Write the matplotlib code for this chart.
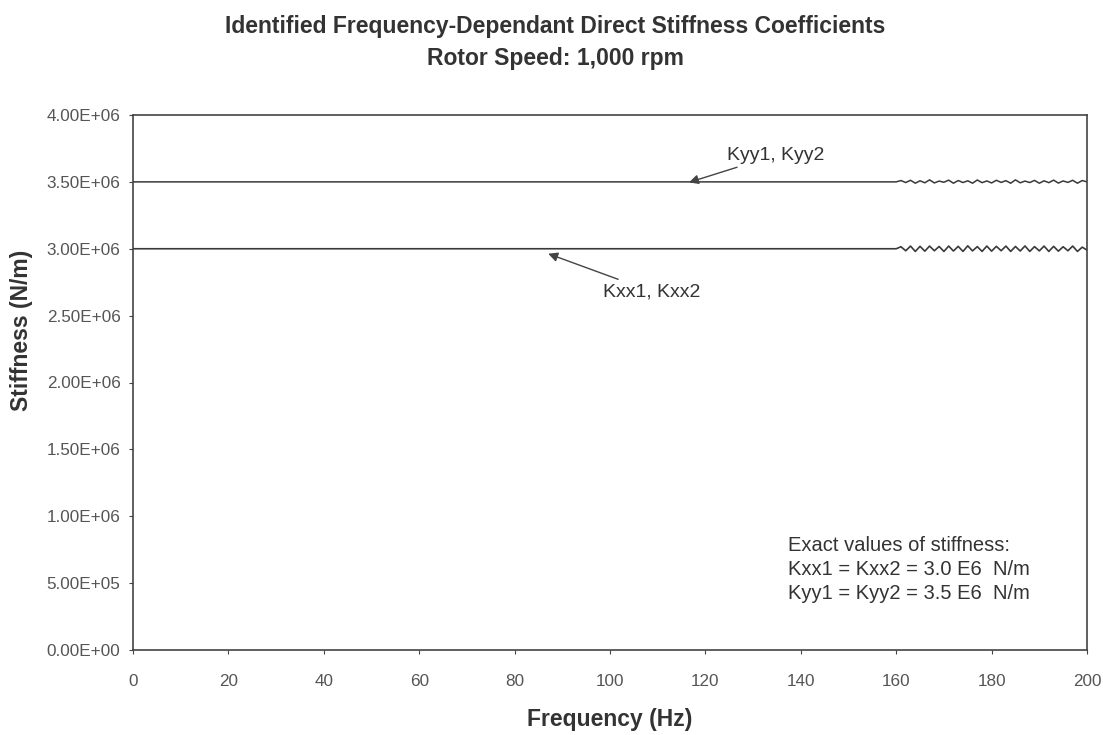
import matplotlib.pyplot as plt
from matplotlib.ticker import FuncFormatter

plt.rcParams['font.family'] = ['Liberation Sans', 'DejaVu Sans']

# --- Data ---
freq_flat = [0, 40, 80, 120, 160]
kxx_flat = [3.00e6, 3.00e6, 3.00e6, 3.00e6, 3.00e6]
kyy_flat = [3.50e6, 3.50e6, 3.50e6, 3.50e6, 3.50e6]

freq_wiggle = [161, 162, 163, 164, 165, 166, 167, 168, 169, 170,
               171, 172, 173, 174, 175, 176, 177, 178, 179, 180,
               181, 182, 183, 184, 185, 186, 187, 188, 189, 190,
               191, 192, 193, 194, 195, 196, 197, 198, 199, 200]
kxx_wiggle = [3.015e6, 2.985e6, 3.020e6, 2.980e6, 3.018e6, 2.982e6, 3.020e6, 2.985e6, 3.017e6, 2.980e6,
              3.020e6, 2.983e6, 3.018e6, 2.980e6, 3.022e6, 2.984e6, 3.016e6, 2.980e6, 3.020e6, 2.982e6,
              3.018e6, 2.985e6, 3.020e6, 2.980e6, 3.017e6, 2.983e6, 3.021e6, 2.980e6, 3.016e6, 2.984e6,
              3.020e6, 2.980e6, 3.018e6, 2.982e6, 3.015e6, 2.985e6, 3.020e6, 2.980e6, 3.012e6, 2.990e6]
kyy_wiggle = [3.510e6, 3.495e6, 3.512e6, 3.490e6, 3.508e6, 3.493e6, 3.515e6, 3.492e6, 3.506e6, 3.497e6,
              3.513e6, 3.490e6, 3.510e6, 3.495e6, 3.508e6, 3.490e6, 3.514e6, 3.494e6, 3.507e6, 3.492e6,
              3.512e6, 3.496e6, 3.509e6, 3.490e6, 3.515e6, 3.493e6, 3.506e6, 3.495e6, 3.511e6, 3.490e6,
              3.508e6, 3.494e6, 3.513e6, 3.491e6, 3.507e6, 3.496e6, 3.512e6, 3.490e6, 3.510e6, 3.500e6]

freq = freq_flat + freq_wiggle
kxx = kxx_flat + kxx_wiggle
kyy = kyy_flat + kyy_wiggle

x_ticks = [0, 20, 40, 60, 80, 100, 120, 140, 160, 180, 200]
y_ticks = [0, 0.5e6, 1.0e6, 1.5e6, 2.0e6, 2.5e6, 3.0e6, 3.5e6, 4.0e6]

exact_lines = ["Exact values of stiffness:",
               "Kxx1 = Kxx2 = 3.0 E6  N/m",
               "Kyy1 = Kyy2 = 3.5 E6  N/m"]

# --- Figure ---
W, H = 1103, 735
fig = plt.figure(figsize=(W / 100, H / 100), dpi=100)
ax = fig.add_axes([133 / W, 1 - 650 / H, (1087 - 133) / W, (650 - 115) / H])

line_col = "#3a3a3a"
ax.plot(freq, kxx, color=line_col, lw=1.2)
ax.plot(freq, kyy, color=line_col, lw=1.1)

ax.set_xlim(0, 200)
ax.set_ylim(0, 4.0e6)
ax.set_xticks(x_ticks)
ax.set_yticks(y_ticks)
ax.yaxis.set_major_formatter(FuncFormatter(lambda v, p: f"{v:.2E}"))

for s in ax.spines.values():
    s.set_color("#444444")
    s.set_linewidth(1.2)
ax.tick_params(axis="both", labelsize=12.3, colors="#444444", labelcolor="#555555",
               length=3, width=0.8)
ax.tick_params(axis="x", pad=14)
ax.tick_params(axis="y", pad=6)

ax.set_xlabel("Frequency (Hz)", fontsize=16.5, fontweight="bold", color="#333333", labelpad=14)
fig.text(22 / W, 1 - 330 / H, "Stiffness (N/m)", rotation=90, ha="center", va="center",
         fontsize=16.5, fontweight="bold", color="#333333")

fig.text(555 / W, 1 - 27 / H, "Identified Frequency-Dependant Direct Stiffness Coefficients",
         ha="center", va="center", fontsize=16.5, fontweight="bold", color="#333333")
fig.text(555 / W, 1 - 58 / H, "Rotor Speed: 1,000 rpm",
         ha="center", va="center", fontsize=16.5, fontweight="bold", color="#333333")

# annotations with arrows
arrow = dict(arrowstyle="-|>", color="#444444", lw=1.0, mutation_scale=14)
ax.annotate("Kyy1, Kyy2", xy=(116, 3.49e6), xytext=(124.5, 3.70e6),
            fontsize=14, color="#333333", va="center", ha="left", arrowprops=arrow)
ax.annotate("Kxx1, Kxx2", xy=(86.5, 2.97e6), xytext=(98.5, 2.68e6),
            fontsize=14, color="#333333", va="center", ha="left", arrowprops=arrow)

for i, t in enumerate(exact_lines):
    ax.text(137.3, 0.78e6 - i * 0.18e6, t, fontsize=14.5, color="#333333", ha="left", va="center")

fig.savefig("out.png", dpi=100, facecolor="white")
